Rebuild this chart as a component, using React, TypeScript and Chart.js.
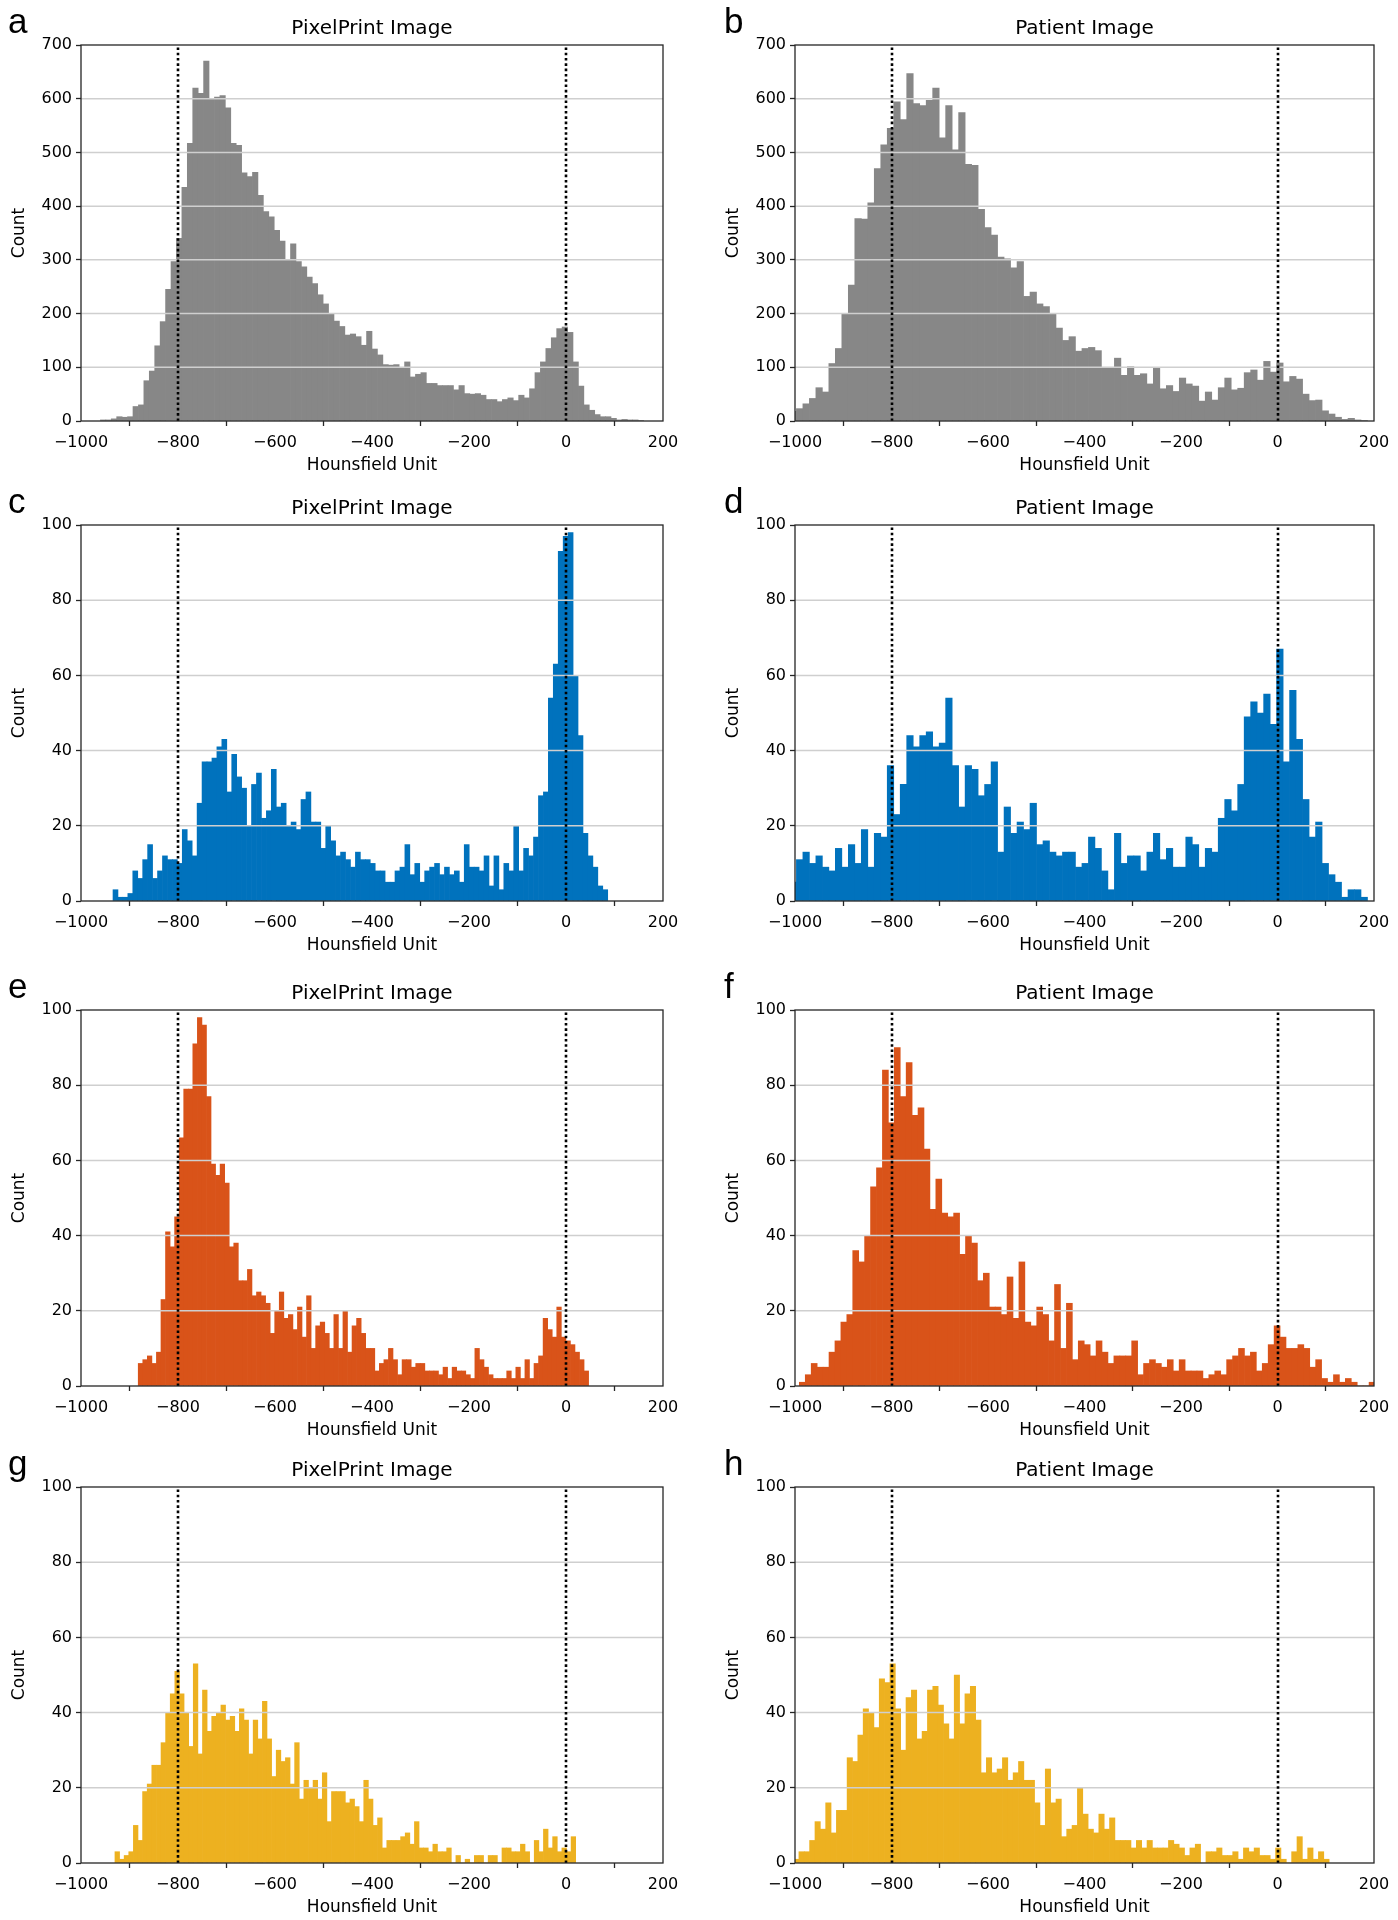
import React, { useEffect, useRef } from 'react';
import { Chart, registerables } from 'chart.js';

Chart.register(...registerables);

// ---------- axis / tick data ----------
const X_MIN = -1000;
const X_MAX = 200;
const xTickValues = [-1000, -800, -600, -400, -200, 0, 200];
const yTicksTopRow = [0, 100, 200, 300, 400, 500, 600, 700];
const yTicksLowerRows = [0, 20, 40, 60, 80, 100];
const markerLines = [-800, 0];
const xAxisTitle = 'Hounsfield Unit';
const yAxisTitle = 'Count';
const panelLetters = ['a', 'b', 'c', 'd', 'e', 'f', 'g', 'h'];
const panelTitles = [
  'PixelPrint Image', 'Patient Image',
  'PixelPrint Image', 'Patient Image',
  'PixelPrint Image', 'Patient Image',
  'PixelPrint Image', 'Patient Image',
];

// ---------- histogram counts ----------
const binStartA = -960;
const binWidthA = 11.2;
const countsA = [2, 2, 4, 8, 7, 8, 27, 30, 75, 93, 140, 185, 245, 297, 340, 435, 517, 620, 610, 670, 600, 603, 606, 583, 517, 513, 462, 455, 463, 420, 390, 380, 355, 335, 300, 330, 297, 287, 268, 256, 235, 218, 200, 186, 176, 160, 162, 157, 141, 167, 134, 123, 105, 104, 105, 100, 110, 82, 87, 90, 70, 70, 66, 66, 66, 58, 66, 51, 50, 51, 48, 40, 40, 36, 40, 43, 38, 48, 43, 60, 90, 110, 135, 155, 172, 175, 165, 110, 65, 30, 20, 12, 8, 8, 5, 2, 3, 2, 2, 1];

const binStartB = -1024;
const binWidthB = 13.45;
const countsB = [15, 18, 23, 32, 42, 62, 54, 107, 135, 199, 253, 377, 376, 406, 470, 514, 545, 594, 561, 647, 591, 587, 597, 620, 527, 587, 505, 574, 478, 476, 394, 360, 346, 305, 302, 285, 297, 232, 240, 218, 213, 199, 173, 150, 157, 130, 135, 137, 131, 100, 100, 117, 85, 101, 85, 88, 69, 98, 60, 66, 55, 80, 69, 65, 37, 54, 39, 62, 80, 58, 61, 90, 95, 76, 111, 91, 108, 73, 83, 78, 50, 38, 39, 19, 13, 7, 3, 5, 2, 1];

const binStartC = -934;
const binWidthC = 10.2;
const countsC = [3, 1, 1, 2, 8, 6, 11, 15, 6, 8, 12, 11, 11, 10, 19, 16, 12, 26, 37, 37, 38, 41, 43, 29, 39, 33, 30, 20, 31, 34, 22, 24, 35, 25, 26, 20, 21, 19, 27, 29, 21, 21, 14, 20, 16, 12, 13, 11, 9, 13, 11, 11, 10, 8, 8, 5, 5, 8, 9, 15, 7, 10, 5, 8, 9, 10, 7, 9, 7, 8, 5, 15, 9, 9, 8, 12, 4, 12, 3, 10, 8, 20, 8, 14, 12, 17, 28, 29, 54, 63, 93, 97, 98, 60, 44, 18, 12, 9, 4, 3];

const binStartD = -1024;
const binWidthD = 13.45;
const countsD = [6, 5, 11, 13, 10, 12, 9, 8, 14, 9, 15, 10, 19, 9, 18, 17, 36, 23, 31, 44, 41, 44, 45, 41, 42, 54, 36, 25, 36, 35, 28, 31, 37, 13, 25, 18, 21, 19, 26, 15, 16, 13, 12, 13, 13, 9, 10, 17, 14, 8, 3, 18, 10, 12, 12, 8, 13, 18, 11, 14, 9, 9, 17, 15, 9, 14, 13, 22, 27, 24, 31, 49, 53, 50, 55, 47, 67, 37, 56, 43, 27, 17, 21, 10, 7, 5, 1, 3, 3, 1];

const binStartE = -882;
const binWidthE = 9.38;
const countsE = [6, 7, 8, 6, 9, 23, 41, 37, 45, 66, 79, 79, 91, 98, 96, 77, 59, 56, 59, 54, 37, 38, 28, 28, 31, 24, 25, 24, 22, 14, 20, 25, 18, 19, 15, 21, 13, 24, 10, 16, 17, 14, 10, 19, 10, 20, 9, 16, 18, 14, 10, 10, 4, 6, 7, 10, 7, 3, 7, 7, 5, 6, 6, 4, 4, 4, 3, 5, 2, 5, 4, 4, 3, 2, 10, 7, 5, 3, 2, 2, 2, 4, 2, 5, 2, 7, 2, 6, 8, 18, 15, 13, 21, 13, 12, 11, 9, 7, 4];

const binStartF = -991;
const binWidthF = 12.3;
const countsF = [1, 3, 6, 5, 5, 9, 12, 17, 19, 36, 33, 40, 53, 58, 84, 70, 90, 77, 86, 72, 74, 63, 47, 55, 46, 45, 46, 35, 40, 38, 28, 30, 21, 21, 19, 29, 18, 33, 17, 16, 21, 19, 12, 27, 10, 22, 7, 12, 11, 8, 12, 9, 6, 8, 8, 8, 12, 3, 6, 7, 6, 5, 7, 4, 7, 4, 4, 4, 2, 3, 4, 3, 7, 8, 10, 8, 9, 4, 6, 11, 16, 13, 10, 10, 11, 10, 5, 7, 2, 1, 3, 1, 2, 1, 0, 0, 1];

const binStartG = -930;
const binWidthG = 9.5;
const countsG = [3, 1, 2, 3, 10, 6, 19, 21, 26, 26, 32, 40, 45, 51, 45, 40, 31, 53, 29, 46, 35, 39, 40, 42, 38, 39, 35, 41, 38, 29, 38, 33, 43, 33, 23, 30, 27, 28, 21, 32, 17, 22, 20, 22, 17, 24, 11, 19, 19, 19, 16, 17, 15, 11, 22, 17, 10, 12, 4, 6, 6, 6, 7, 8, 5, 11, 4, 4, 3, 5, 3, 3, 4, 0, 2, 0, 1, 0, 2, 2, 0, 2, 2, 0, 4, 4, 3, 3, 5, 3, 0, 6, 3, 9, 4, 7, 3, 4, 3, 7];

const binStartH = -1003;
const binWidthH = 11.1;
const countsH = [1, 3, 3, 6, 11, 9, 16, 8, 14, 14, 28, 27, 34, 41, 40, 36, 49, 48, 53, 41, 30, 44, 46, 33, 35, 46, 47, 42, 37, 33, 50, 37, 45, 47, 38, 24, 28, 24, 25, 28, 22, 24, 27, 22, 22, 16, 10, 25, 16, 17, 7, 9, 10, 20, 13, 9, 8, 13, 9, 12, 6, 6, 6, 4, 6, 4, 6, 4, 4, 4, 6, 5, 4, 2, 4, 5, 0, 3, 3, 4, 2, 2, 3, 1, 4, 3, 4, 2, 2, 1, 4, 1, 0, 3, 7, 1, 4, 1, 3, 1];

// ---------- colours ----------
const colorGray = '#878787';
const colorBlue = '#0072BD';
const colorOrange = '#D95319';
const colorYellow = '#EDB120';

// ---------- layout (pixels) ----------
const COL_X = [0, 700];
const CANVAS_W = [700, 698];
const COL_PLOT = [
  [81, 663],
  [95, 674],
];
const ROW_Y = [0, 480, 965, 1442];
const CANVAS_H = 480;
const PLOT_TOP = 45;
const PLOT_BOTTOM = 421;
const LETTER_X = [8, 724];
const FONT = '"DejaVu Sans", "Liberation Sans", sans-serif';

type PanelSpec = {
  idx: number;
  counts: number[];
  binStart: number;
  binWidth: number;
  color: string;
  yTicks: number[];
  col: number;
  row: number;
};

const panels: PanelSpec[] = [
  { idx: 0, counts: countsA, binStart: binStartA, binWidth: binWidthA, color: colorGray, yTicks: yTicksTopRow, col: 0, row: 0 },
  { idx: 1, counts: countsB, binStart: binStartB, binWidth: binWidthB, color: colorGray, yTicks: yTicksTopRow, col: 1, row: 0 },
  { idx: 2, counts: countsC, binStart: binStartC, binWidth: binWidthC, color: colorBlue, yTicks: yTicksLowerRows, col: 0, row: 1 },
  { idx: 3, counts: countsD, binStart: binStartD, binWidth: binWidthD, color: colorBlue, yTicks: yTicksLowerRows, col: 1, row: 1 },
  { idx: 4, counts: countsE, binStart: binStartE, binWidth: binWidthE, color: colorOrange, yTicks: yTicksLowerRows, col: 0, row: 2 },
  { idx: 5, counts: countsF, binStart: binStartF, binWidth: binWidthF, color: colorOrange, yTicks: yTicksLowerRows, col: 1, row: 2 },
  { idx: 6, counts: countsG, binStart: binStartG, binWidth: binWidthG, color: colorYellow, yTicks: yTicksLowerRows, col: 0, row: 3 },
  { idx: 7, counts: countsH, binStart: binStartH, binWidth: binWidthH, color: colorYellow, yTicks: yTicksLowerRows, col: 1, row: 3 },
];

const fmtTick = (v: number) => (v < 0 ? '\u2212' + Math.abs(v) : String(v));

function HistPanel({ spec }: { spec: PanelSpec }) {
  const ref = useRef<HTMLCanvasElement>(null);
  const w = CANVAS_W[spec.col];
  const h = CANVAS_H;

  useEffect(() => {
    const canvas = ref.current;
    if (!canvas) return;
    const [pl, pr] = COL_PLOT[spec.col];
    const yMax = spec.yTicks[spec.yTicks.length - 1];
    const title = panelTitles[spec.idx];
    const data = spec.counts.map((c, i) => ({ x: spec.binStart + (i + 0.5) * spec.binWidth, y: c }));

    const overlay = {
      id: 'overlay' + spec.idx,
      afterDatasetsDraw(chart: any) {
        const { ctx, chartArea: a, scales } = chart;
        const xs = scales.x;
        const ys = scales.y;
        ctx.save();
        // horizontal grid (drawn over the bars)
        ctx.strokeStyle = '#cfcfcf';
        ctx.lineWidth = 1.5;
        for (const v of spec.yTicks) {
          if (v <= 0 || v >= yMax) continue;
          const py = ys.getPixelForValue(v);
          ctx.beginPath();
          ctx.moveTo(a.left, py);
          ctx.lineTo(a.right, py);
          ctx.stroke();
        }
        // dotted reference lines
        ctx.strokeStyle = '#000000';
        ctx.lineWidth = 2.6;
        ctx.setLineDash([2.6, 2.7]);
        for (const m of markerLines) {
          const px = Math.round(xs.getPixelForValue(m));
          ctx.beginPath();
          ctx.moveTo(px, a.bottom);
          ctx.lineTo(px, a.top);
          ctx.stroke();
        }
        ctx.setLineDash([]);
        // frame
        ctx.strokeStyle = '#262626';
        ctx.lineWidth = 1.3;
        ctx.strokeRect(a.left, a.top, a.right - a.left, a.bottom - a.top);
        // texts
        ctx.fillStyle = '#000000';
        ctx.textAlign = 'center';
        ctx.textBaseline = 'middle';
        const cx = (a.left + a.right) / 2;
        ctx.font = '20px ' + FONT;
        ctx.fillText(title, cx, a.top - 16.5);
        ctx.font = '17px ' + FONT;
        ctx.fillText(xAxisTitle, cx, a.bottom + 45);
        ctx.save();
        ctx.translate(a.left - 61, (a.top + a.bottom) / 2);
        ctx.rotate(-Math.PI / 2);
        ctx.fillText(yAxisTitle, 0, 0);
        ctx.restore();
        ctx.restore();
      },
    };

    const tickFont = { family: FONT, size: 16 };
    const gridCfg = {
      display: true,
      drawOnChartArea: false,
      drawTicks: true,
      tickLength: 5,
      tickWidth: 1.3,
      tickColor: '#262626',
      color: 'rgba(0,0,0,0)',
    };

    const chart = new Chart(canvas, {
      type: 'bar',
      data: {
        datasets: [
          {
            data: data as any,
            backgroundColor: spec.color,
            borderWidth: 0,
            barPercentage: 1,
            categoryPercentage: 1,
            grouped: false,
            clip: 0,
          } as any,
        ],
      },
      options: {
        animation: false,
        responsive: false,
        devicePixelRatio: 1,
        layout: { padding: { top: PLOT_TOP, right: w - pr, bottom: 0, left: 0 } },
        plugins: {
          legend: { display: false },
          tooltip: { enabled: false },
          title: { display: false },
        },
        scales: {
          x: {
            type: 'linear',
            min: X_MIN,
            max: X_MAX,
            offset: false,
            afterBuildTicks: (s: any) => {
              s.ticks = xTickValues.map((v) => ({ value: v }));
            },
            afterFit: (s: any) => {
              s.height = h - PLOT_BOTTOM;
            },
            grid: gridCfg,
            border: { display: false },
            ticks: {
              font: tickFont,
              color: '#000000',
              padding: 7,
              maxRotation: 0,
              autoSkip: false,
              callback: (v: any) => fmtTick(Number(v)),
            },
          },
          y: {
            type: 'linear',
            min: 0,
            max: yMax,
            afterBuildTicks: (s: any) => {
              s.ticks = spec.yTicks.map((v) => ({ value: v }));
            },
            afterFit: (s: any) => {
              s.width = pl;
            },
            grid: gridCfg,
            border: { display: false },
            ticks: {
              font: tickFont,
              color: '#000000',
              padding: 4,
              autoSkip: false,
              callback: (v: any) => fmtTick(Number(v)),
            },
          },
        },
      } as any,
      plugins: [overlay],
    });
    return () => chart.destroy();
  }, [spec]);

  return (
    <canvas
      ref={ref}
      width={w}
      height={h}
      style={{ position: 'absolute', left: COL_X[spec.col], top: ROW_Y[spec.row], width: w, height: h }}
    />
  );
}

export default function App() {
  return (
    <div style={{ position: 'absolute', left: 0, top: 0, width: 1398, height: 1920, background: '#ffffff', overflow: 'hidden' }}>
      {panels.map((p) => (
        <HistPanel key={p.idx} spec={p} />
      ))}
      {panels.map((p) => (
        <div
          key={'l' + p.idx}
          style={{
            position: 'absolute',
            left: LETTER_X[p.col],
            top: ROW_Y[p.row] + 33 - 29.6,
            fontFamily: '"Liberation Sans", Arial, sans-serif',
            fontSize: 35,
            lineHeight: 1,
            color: '#000',
          }}
        >
          {panelLetters[p.idx]}
        </div>
      ))}
    </div>
  );
}
